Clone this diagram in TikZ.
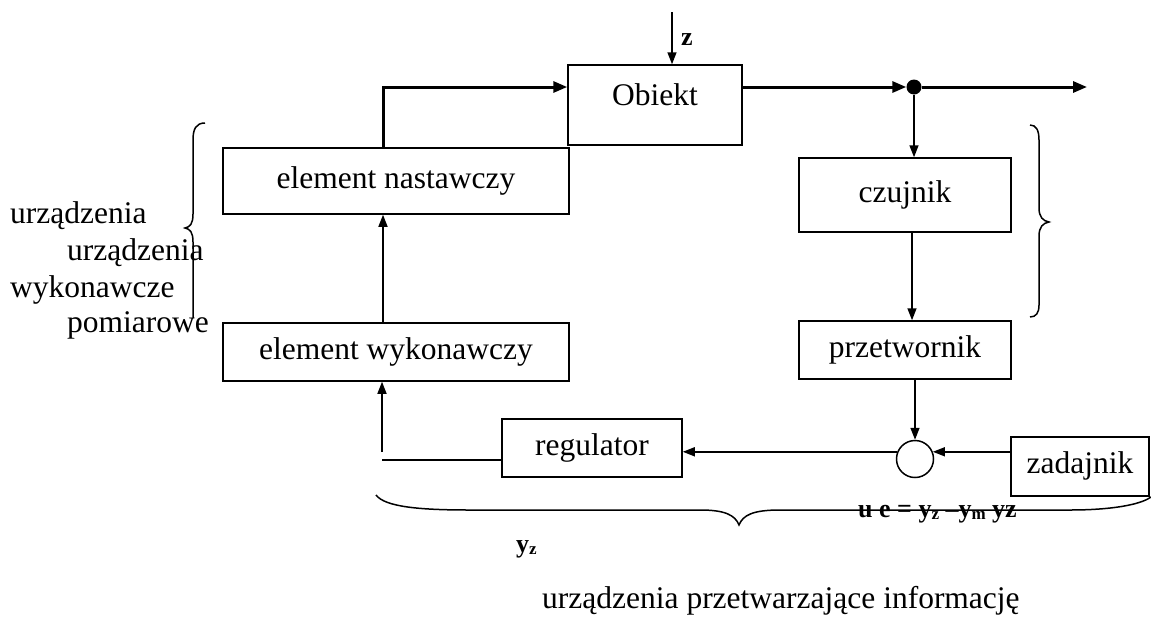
\documentclass[tikz,border=0pt]{standalone}
\usepackage{fontspec}
\setmainfont{Liberation Serif}
\usetikzlibrary{arrows.meta,calc}
\newcommand{\sbs}[1]{\raisebox{-2pt}{\fontsize{17}{17}\selectfont #1}}
\begin{document}
\begin{tikzpicture}[x=1pt,y=-1pt,
  box/.style={draw,line width=1.5pt,inner sep=0pt,font=\fontsize{31.5}{36}\selectfont,text height=21pt,text depth=7pt},
  ln/.style={line width=1.5pt},
  thk/.style={line width=3pt},
  arr/.style={-{Triangle[length=12pt,width=9pt]}},
  tarr/.style={-{Triangle[length=14pt,width=11pt]}},
  lbl/.style={font=\fontsize{31.5}{36}\selectfont,inner sep=0pt,anchor=base west},
  blbl/.style={font=\fontsize{26}{29}\selectfont\bfseries,inner sep=0pt}
]
\useasboundingbox (0,0) rectangle (1151,627);

% blocks
\node[box,minimum width=174pt,minimum height=80pt,text height=20pt,text depth=20pt] (obj) at (655,105) {Obiekt};
\node[box,minimum width=346pt,minimum height=66pt] (nast) at (396,181) {element nastawczy};
\node[box,minimum width=346pt,minimum height=58pt] (wyk) at (396,352) {element wykonawczy};
\node[box,minimum width=212pt,minimum height=74pt] (czu) at (905,195) {czujnik};
\node[box,minimum width=212pt,minimum height=58pt] (prz) at (905,350) {przetwornik};
\node[box,minimum width=180pt,minimum height=58pt] (reg) at (592,448) {regulator};
\node[box,minimum width=138pt,minimum height=59pt] (zad) at (1080,466.5) {zadajnik};
\node[draw,line width=1.5pt,circle,minimum size=37pt,inner sep=0pt] (sum) at (915,459) {};
\node[fill,circle,minimum size=15pt,inner sep=0pt] (dot) at (914,87) {};

% helper coordinates
\coordinate (k1) at (383,87);
\coordinate (out) at (1087,87);
\coordinate (zt) at (672,12);
\coordinate (c2) at (912,0);
\coordinate (rl) at (382,460);
\coordinate (ru) at (382,452);

% connectors
\draw[thk,tarr] (k1 |- nast.north) -- (k1) -- (k1 -| obj.west);
\draw[thk,tarr] (obj.east |- dot) -- (dot.west);
\draw[thk,tarr] (dot.east) -- (out);
\draw[ln,arr] (zt) -- (zt |- obj.north);
\draw[ln,arr] (dot.south) -- (dot.south |- czu.north);
\draw[ln,arr] (c2 |- czu.south) -- (c2 |- prz.north);
\draw[ln,arr] (sum.north |- prz.south) -- (sum.north);
\draw[ln,arr] (zad.west |- sum.22) -- (sum.22);
\draw[ln,arr] (sum.158) -- (reg.east |- sum.158);
\draw[ln] (reg.west |- rl) -- (rl);
\draw[ln,arr] (ru) -- (ru |- wyk.south);
\draw[ln,arr] (k1 |- wyk.north) -- (k1 |- nast.south);

% braces
\draw[ln] (205,123) .. controls (196,123) and (193,129) .. (193,140) -- (193,214)
  .. controls (193,224) and (190,227) .. (185,228)
  .. controls (190,229) and (193,232) .. (193,242) -- (193,318);
\draw[ln] (1030,125) .. controls (1036,125) and (1039,130) .. (1039,140) -- (1039,208)
  .. controls (1039,217) and (1043,221) .. (1049,222)
  .. controls (1043,223) and (1039,227) .. (1039,236) -- (1039,305)
  .. controls (1039,313) and (1036,317) .. (1030,317);
\draw[ln] (376,495) .. controls (385,507) and (420,510) .. (470,510) -- (700,510)
  .. controls (725,510) and (735,515) .. (739,525)
  .. controls (743,515) and (753,510) .. (780,510) -- (1070,510)
  .. controls (1110,510) and (1140,505) .. (1151,497);

% labels
\node[blbl] (zl) at (687,40) {z};
\node[blbl,anchor=base west] (yzl) at (516,552) {y\sbs{z}};
\node[blbl,anchor=base west] (eq) at (858,517) {u e = y\sbs{z} –y\sbs{m} yz};
\node[lbl] (l1) at (10,223) {urządzenia};
\node[lbl] (l2) at (67,260) {urządzenia};
\node[lbl] (l3) at (10,297) {wykonawcze};
\node[lbl] (l4) at (67,332) {pomiarowe};
\node[lbl] (info) at (542,608) {urządzenia przetwarzające informację};
\end{tikzpicture}
\end{document}
